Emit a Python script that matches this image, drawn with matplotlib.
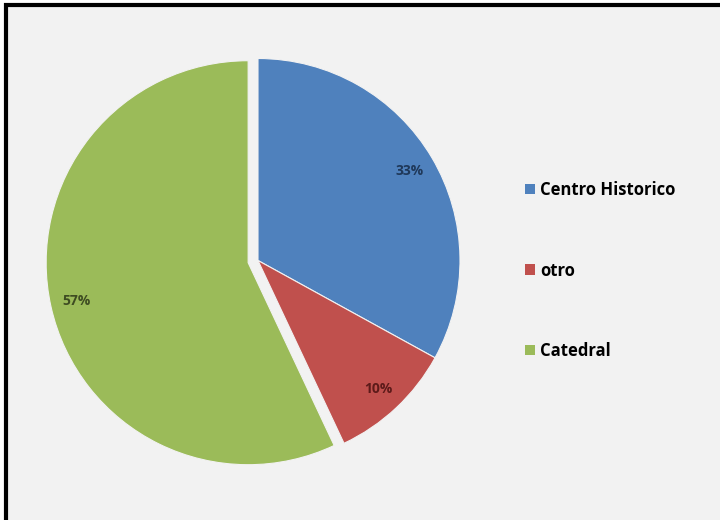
import matplotlib.pyplot as plt
from matplotlib.patches import Rectangle

labels = ['Centro Historico', 'otro', 'Catedral']
values = [33, 10, 57]
colors = ['#4F81BD', '#C0504D', '#9BBB59']
pct_colors = ['#1F3859', '#5C1A19', '#3E4C22']
explode = [0, 0, 0.05]

plt.rcParams['font.family'] = ['Open Sans', 'DejaVu Sans']

fig = plt.figure(figsize=(7.2, 5.2), dpi=100, facecolor='white')
# grey chart area with the black frame (left/top visible)
fig.add_artist(Rectangle((6 / 720, -0.05), 1.1, 1 - 5 / 520 + 0.05,
                         transform=fig.transFigure, facecolor='#F2F2F2',
                         edgecolor='black', linewidth=3, zorder=-10))

ax = fig.add_axes([0, 0, 1, 1])
ax.patch.set_visible(False)
r = 202.0
cx, cy = 258.0, 260.5
wedges, texts, autotexts = ax.pie(values, colors=colors, explode=explode,
                                  startangle=90, counterclock=False,
                                  autopct='%1.0f%%', pctdistance=0.87,
                                  wedgeprops=dict(edgecolor='#F2F2F2', linewidth=0.8),
                                  textprops=dict(fontsize=10, fontweight='bold'))
for t, c in zip(autotexts, pct_colors):
    t.set_color(c)
ax.set_xlim(-cx / r, (720 - cx) / r)
ax.set_ylim(-(520 - cy) / r, cy / r)
ax.set_aspect('auto')
ax.axis('off')

leg = ax.legend(wedges, labels, loc='upper left', bbox_to_anchor=(510 / 720, 1 - 166 / 520),
                frameon=False, handlelength=0.6, handleheight=0.6, handletextpad=0.3,
                labelspacing=3.75, prop=dict(size=12, weight='bold'))
for h in leg.legend_handles:
    h.set_edgecolor('none')

fig.savefig('out.png', dpi=100, facecolor=fig.get_facecolor())
